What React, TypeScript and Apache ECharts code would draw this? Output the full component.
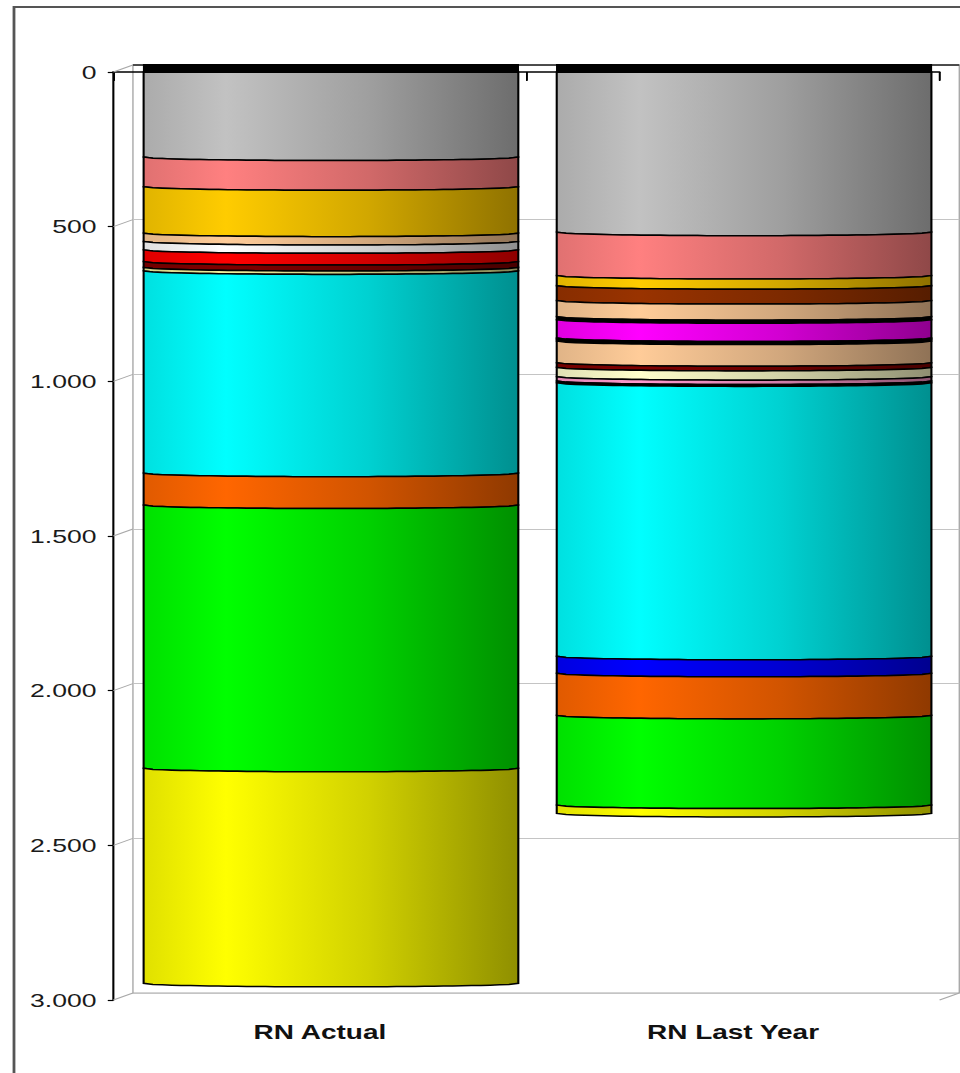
import React, { useEffect, useRef } from 'react';
import * as echarts from 'echarts';

// ---- data -------------------------------------------------------------
const categories = ['RN Actual', 'RN Last Year'];
const yMin = 0;
const yMax = 3000;
const yStep = 500;
const yTickValues = [0, 500, 1000, 1500, 2000, 2500, 3000];

// stacked slices, listed from the top of the cylinder downwards,
// one value per category: [RN Actual, RN Last Year]
const grey = [275, 518];
const salmon = [96, 140];
const gold = [150, 33];
const brown = [0, 48];
const peach = [27, 52];
const blackA = [0, 10];
const magenta = [0, 59];
const olive = [0, 4];
const blackB = [0, 6];
const tan = [0, 70];
const white = [27, 0];
const red = [38, 0];
const maroon = [19, 15];
const khaki = [11, 0];
const cream = [0, 30];
const pink = [0, 14];
const blackC = [0, 6];
const cyan = [654, 884];
const blue = [0, 55];
const orange = [103, 136];
const green = [851, 290];
const yellow = [695, 27];

const slices = [
  { name: 'grey', values: grey },
  { name: 'salmon', values: salmon },
  { name: 'gold', values: gold },
  { name: 'brown', values: brown },
  { name: 'peach', values: peach },
  { name: 'blackA', values: blackA },
  { name: 'magenta', values: magenta },
  { name: 'olive', values: olive },
  { name: 'blackB', values: blackB },
  { name: 'tan', values: tan },
  { name: 'white', values: white },
  { name: 'red', values: red },
  { name: 'maroon', values: maroon },
  { name: 'khaki', values: khaki },
  { name: 'cream', values: cream },
  { name: 'pink', values: pink },
  { name: 'blackC', values: blackC },
  { name: 'cyan', values: cyan },
  { name: 'blue', values: blue },
  { name: 'orange', values: orange },
  { name: 'green', values: green },
  { name: 'yellow', values: yellow },
];

// ---- styles -----------------------------------------------------------
const sliceColors: Record<string, string> = {
  grey: '#c2c2c2',
  salmon: '#ff8080',
  gold: '#ffcc00',
  brown: '#993300',
  peach: '#ffcc99',
  blackA: '#000000',
  magenta: '#ff00ff',
  olive: '#cccc00',
  blackB: '#000000',
  tan: '#ffcc99',
  white: '#ffffff',
  red: '#ff0000',
  maroon: '#800000',
  khaki: '#eeee99',
  cream: '#ffffcc',
  pink: '#ff99cc',
  blackC: '#000000',
  cyan: '#00ffff',
  blue: '#0000ff',
  orange: '#ff6600',
  green: '#00ff00',
  yellow: '#ffff00',
};

const PAGE_W = 960;
const PAGE_H = 1073;
const INNER_W = 686; // chart is laid out narrow and stretched sideways
const SX = PAGE_W / INNER_W;

const FRONT = { left: 81, right: 14.6, top: 72, bottom: 73 };
const BACK = { left: 95, right: 0.5, top: 65, bottom: 80 };
const BAR_RATIO = 0.907;
const DEPTH_SHIFT = 7.9;
const DIP = 3.5;
const CAP = 8;
const FONT = '"Liberation Sans", Arial, sans-serif';

function shade(hex: string, k: number): string {
  const n = parseInt(hex.slice(1), 16);
  const r = Math.min(255, Math.round(((n >> 16) & 255) * k));
  const g = Math.min(255, Math.round(((n >> 8) & 255) * k));
  const b = Math.min(255, Math.round((n & 255) * k));
  return `rgb(${r},${g},${b})`;
}

function cylinderFill(hex: string) {
  return new echarts.graphic.LinearGradient(0, 0, 1, 0, [
    { offset: 0, color: shade(hex, 0.88) },
    { offset: 0.22, color: shade(hex, 1) },
    { offset: 0.6, color: shade(hex, 0.82) },
    { offset: 1, color: shade(hex, 0.56) },
  ]);
}

function thousands(v: number): string {
  return String(v).replace(/\B(?=(\d{3})+(?!\d))/g, '.');
}

function makeRenderer(color: string) {
  const fill = cylinderFill(color);
  return (_params: any, api: any) => {
    const cat = api.value(0);
    const from = api.value(1);
    const to = api.value(2);
    const top = api.coord([cat, from]);
    const bottom = api.coord([cat, to]);
    const bw = api.size([1, 0])[0] * BAR_RATIO;
    const cx = top[0] + DEPTH_SHIFT;
    const left = cx - bw / 2;
    const n = 40;
    const topDip = from === 0 ? 0 : DIP;
    const pts: number[][] = [];
    for (let i = 0; i <= n; i++) {
      const t = i / n;
      const u = 2 * t - 1;
      pts.push([left + bw * t, top[1] + topDip * Math.sqrt(Math.max(0, 1 - u * u))]);
    }
    for (let i = n; i >= 0; i--) {
      const t = i / n;
      const u = 2 * t - 1;
      pts.push([left + bw * t, bottom[1] + DIP * Math.sqrt(Math.max(0, 1 - u * u))]);
    }
    const children: any[] = [
      {
        type: 'polygon',
        shape: { points: pts },
        style: { fill, stroke: '#000', lineWidth: 1.5 },
      },
    ];
    if (from === 0) {
      children.push({
        type: 'rect',
        shape: { x: left, y: top[1] - CAP + 0.5, width: bw, height: CAP },
        style: { fill: '#000', stroke: '#000', lineWidth: 1 },
      });
    }
    return { type: 'group', children };
  };
}

function buildSeries() {
  const running = categories.map(() => 0);
  return slices.map((s) => {
    const data: number[][] = [];
    s.values.forEach((v, ci) => {
      const start = running[ci];
      running[ci] += v;
      if (v > 0) data.push([ci, start, start + v]);
    });
    return {
      type: 'custom',
      name: s.name,
      xAxisIndex: 0,
      yAxisIndex: 0,
      encode: { x: 0, y: [1, 2] },
      clip: false,
      z: 5,
      renderItem: makeRenderer(sliceColors[s.name]),
      data,
    };
  });
}

export default function App() {
  const ref = useRef<HTMLDivElement>(null);

  useEffect(() => {
    if (!ref.current) return;
    const chart = echarts.init(ref.current, null, { renderer: 'svg' });
    chart.setOption({
      animation: false,
      backgroundColor: '#ffffff',
      grid: [
        { ...FRONT, containLabel: false },
        { ...BACK, containLabel: false, show: true, borderColor: '#a9a9a9', borderWidth: 1, z: 0 },
      ],
      xAxis: [
        {
          type: 'category',
          gridIndex: 0,
          data: categories,
          position: 'bottom',
          boundaryGap: true,
          axisLine: { show: true, lineStyle: { color: '#000', width: 1.5 } },
          axisTick: { show: true, length: 9, lineStyle: { color: '#000', width: 1.2 } },
          axisLabel: {
            fontFamily: FONT,
            fontWeight: 'bold',
            fontSize: 20,
            color: '#111',
            margin: 22,
          },
          splitLine: { show: false },
        },
        {
          type: 'category',
          gridIndex: 0,
          data: categories,
          position: 'top',
          boundaryGap: true,
          axisLine: { show: false },
          axisTick: { show: true, inside: true, length: 8, lineStyle: { color: '#000', width: 1.2 } },
          axisLabel: { show: false },
          splitLine: { show: false },
        },
        {
          type: 'category',
          gridIndex: 1,
          data: categories,
          show: false,
        },
      ],
      yAxis: [
        {
          type: 'value',
          gridIndex: 0,
          inverse: true,
          min: yMin,
          max: yMax,
          interval: yStep,
          axisLine: { show: true, lineStyle: { color: '#000', width: 1.5 } },
          axisTick: { show: true, length: 4, lineStyle: { color: '#000', width: 1.2 } },
          axisLabel: {
            fontFamily: FONT,
            fontSize: 19,
            color: '#1a1a1a',
            margin: 12,
            formatter: (v: number) => thousands(v),
          },
          splitLine: { show: false },
        },
        {
          type: 'value',
          gridIndex: 1,
          inverse: true,
          min: yMin,
          max: yMax,
          interval: yStep,
          axisLine: { show: false },
          axisTick: { show: false },
          axisLabel: { show: false },
          splitLine: { show: true, lineStyle: { color: '#c4c4c4', width: 1 } },
        },
      ],
      series: buildSeries(),
    });

    // 3D box edges: depth diagonals, back wall top edge and outer frame
    const frontLeft = FRONT.left;
    const frontRight = INNER_W - FRONT.right;
    const backLeft = BACK.left;
    const backRight = INNER_W - BACK.right;
    const yF = (v: number) => chart.convertToPixel({ yAxisIndex: 0 }, v) as number;
    const yB = (v: number) => chart.convertToPixel({ yAxisIndex: 1 }, v) as number;
    const graphic: any[] = [];
    yTickValues.forEach((v) => {
      graphic.push({
        type: 'line',
        silent: true,
        z: 1,
        shape: { x1: frontLeft, y1: yF(v), x2: backLeft, y2: yB(v) },
        style: { stroke: '#a9a9a9', lineWidth: 1 },
      });
    });
    graphic.push({
      type: 'line',
      silent: true,
      z: 1,
      shape: { x1: frontRight, y1: yF(yMax), x2: backRight, y2: yB(yMax) },
      style: { stroke: '#a9a9a9', lineWidth: 1 },
    });
    graphic.push({
      type: 'line',
      silent: true,
      z: 1,
      shape: { x1: backLeft, y1: yB(yMin), x2: backRight, y2: yB(yMin) },
      style: { stroke: '#222', lineWidth: 1.5 },
    });
    graphic.push({
      type: 'rect',
      silent: true,
      z: 10,
      shape: { x: 10, y: 7, width: 760, height: 1120 },
      style: { fill: 'none', stroke: '#555', lineWidth: 2 },
    });
    chart.setOption({ graphic });

    return () => chart.dispose();
  }, []);

  return (
    <div
      style={{
        position: 'fixed',
        left: 0,
        top: 0,
        width: PAGE_W,
        height: PAGE_H,
        overflow: 'hidden',
        background: '#fff',
      }}
    >
      <div
        ref={ref}
        style={{
          width: INNER_W,
          height: PAGE_H,
          transform: `scaleX(${SX})`,
          transformOrigin: '0 0',
        }}
      />
    </div>
  );
}
